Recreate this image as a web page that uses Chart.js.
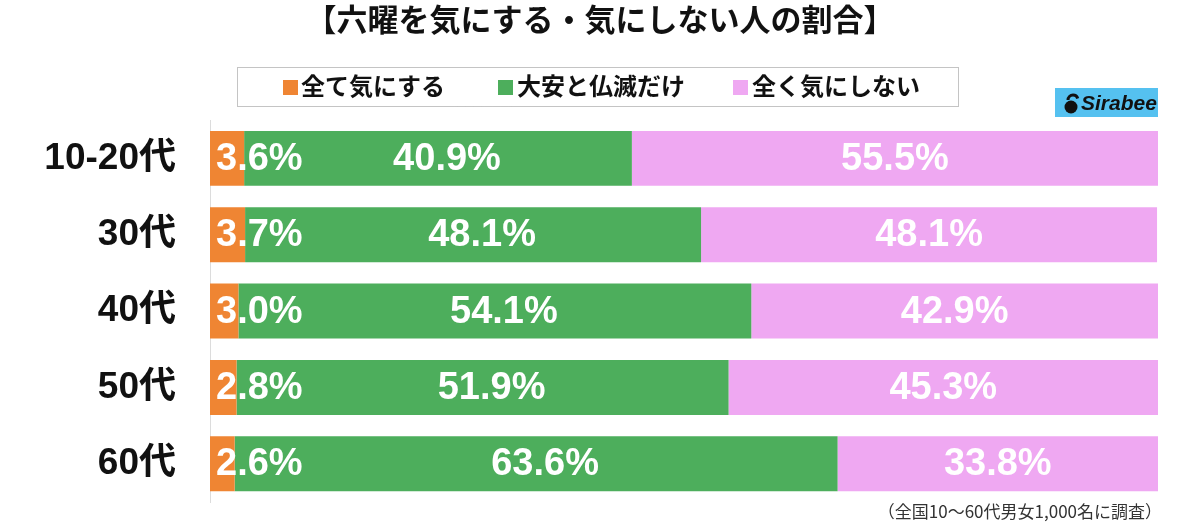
<!DOCTYPE html>
<html>
<head>
<meta charset="utf-8">
<script src="https://cdn.jsdelivr.net/npm/chart.js@4"></script>
<style>
  body { margin: 0; background: #fff; }
</style>
</head>
<body>
<canvas id="myChart" width="1200" height="529"></canvas>
<script>
var categories = ['10-20代', '30代', '40代', '50代', '60代'];
var seriesNames = ['全て気にする', '大安と仏滅だけ', '全く気にしない'];
var allCare = [3.6, 3.7, 3.0, 2.8, 2.6];
var onlyTaian = [40.9, 48.1, 54.1, 51.9, 63.6];
var noCare = [55.5, 48.1, 42.9, 45.3, 33.8];
var colors = ['#EF8533', '#4DAE5C', '#EFA8F2'];

var JP = '"Liberation Sans", "Noto Sans CJK JP", sans-serif';

// value labels inside the bars
var barLabels = {
    id: 'barLabels',
    afterDatasetsDraw: function(chart) {
        var ctx = chart.ctx;
        ctx.save();
        ctx.fillStyle = '#fff';
        ctx.font = 'bold 38px ' + JP;
        ctx.textBaseline = 'middle';
        chart.data.datasets.forEach(function(ds, i) {
            var meta = chart.getDatasetMeta(i);
            meta.data.forEach(function(bar, j) {
                var txt = ds.data[j].toFixed(1) + '%';
                if (i === 0) {
                    ctx.textAlign = 'left';
                    ctx.fillText(txt, bar.base + 6, bar.y + 1);
                } else {
                    ctx.textAlign = 'center';
                    var off = i === 1 ? 9 : 0;
                    ctx.fillText(txt, (bar.base + bar.x) / 2 + off, bar.y + 1);
                }
            });
        });
        ctx.restore();
    }
};

// legend box, logo and note
var extras = {
    id: 'extras',
    afterDraw: function(chart) {
        var ctx = chart.ctx;
        ctx.save();
        // dotted legend frame
        ctx.strokeStyle = '#888';
        ctx.lineWidth = 1;
        ctx.setLineDash([1, 1]);
        ctx.strokeRect(237.5, 67.5, 721, 39);
        ctx.setLineDash([]);
        var items = [[283, 301], [498, 517], [733, 752]];
        ctx.font = 'bold 24px ' + JP;
        ctx.textBaseline = 'middle';
        ctx.textAlign = 'left';
        items.forEach(function(p, k) {
            ctx.fillStyle = colors[k];
            ctx.fillRect(p[0], 80, 15, 15);
            ctx.fillStyle = '#111';
            ctx.fillText(seriesNames[k], p[1], 88);
        });
        // logo
        ctx.fillStyle = '#55C1F0';
        ctx.fillRect(1055, 88, 103, 29);
        ctx.fillStyle = '#111';
        ctx.beginPath();
        ctx.arc(1071, 107, 6.5, 0, Math.PI * 2);
        ctx.fill();
        ctx.lineWidth = 3;
        ctx.strokeStyle = '#111';
        ctx.beginPath();
        ctx.arc(1073, 100, 5, Math.PI, Math.PI * 1.9);
        ctx.stroke();
        ctx.font = 'italic bold 21px ' + JP;
        ctx.fillText('Sirabee', 1081, 104);
        // note
        ctx.fillStyle = '#333';
        ctx.font = '17px "Noto Sans CJK JP", sans-serif';
        ctx.textAlign = 'right';
        ctx.fillText('（全国10〜60代男女1,000名に調査）', 1162, 512);
        ctx.restore();
    }
};

var ctx = document.getElementById('myChart').getContext('2d');
var myChart = new Chart(ctx, {
    type: 'bar',
    data: {
        labels: categories,
        datasets: [
            { label: seriesNames[0], data: allCare, backgroundColor: colors[0] },
            { label: seriesNames[1], data: onlyTaian, backgroundColor: colors[1] },
            { label: seriesNames[2], data: noCare, backgroundColor: colors[2] }
        ]
    },
    plugins: [barLabels, extras],
    options: {
        indexAxis: 'y',
        responsive: false,
        animation: false,
        layout: { padding: { left: 42, right: 42, top: 0, bottom: 27 } },
        datasets: {
            bar: { barPercentage: 0.9, categoryPercentage: 0.8, borderWidth: 0 }
        },
        plugins: {
            legend: { display: false },
            tooltip: { enabled: false },
            title: {
                display: true,
                text: '【六曜を気にする・気にしない人の割合】',
                color: '#111',
                font: { size: 31, weight: 'bold', family: JP, lineHeight: 1.2 },
                padding: { top: 4, bottom: 79 }
            }
        },
        scales: {
            x: {
                stacked: true,
                min: 0,
                max: 100,
                display: false
            },
            y: {
                stacked: true,
                grid: { display: false },
                border: { display: true, color: '#dcdcdc', width: 1 },
                ticks: {
                    color: '#111',
                    padding: 26,
                    font: { size: 37, weight: 'bold', family: JP }
                },
                afterFit: function(scale) {
                    scale.width = 168;
                    scale.paddingTop = 0;
                    scale.paddingBottom = 0;
                }
            }
        }
    }
});
</script>
</body>
</html>
